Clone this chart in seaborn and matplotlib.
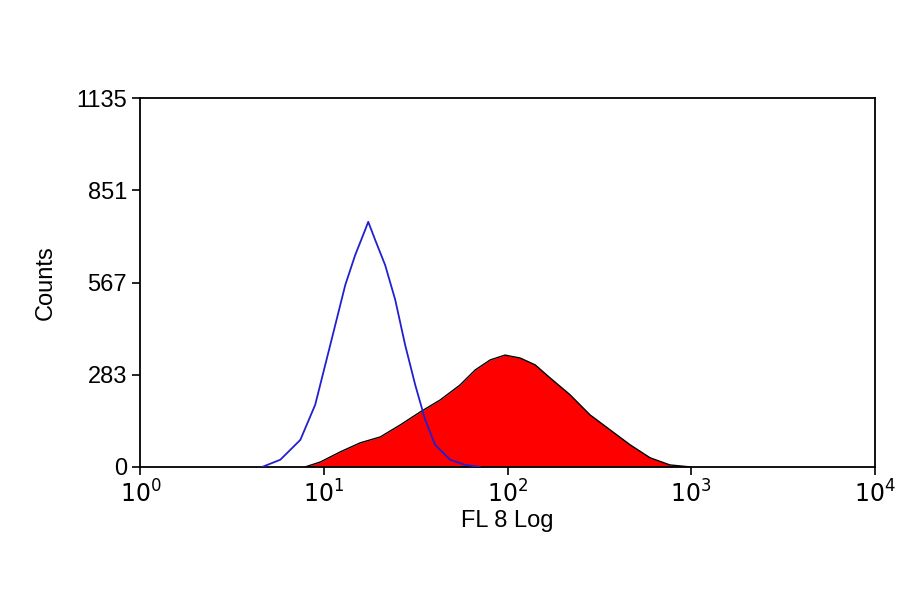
import numpy as np
import pandas as pd
import matplotlib
matplotlib.use("Agg")
import matplotlib.pyplot as plt
import seaborn as sns

# control (blue outline) histogram: log10 fluorescence, counts
blue_log = [0.664,0.762,0.871,0.952,1.034,1.116,1.170,1.224,1.241,1.279,1.333,1.388,1.442,1.497,1.551,1.605,1.687,1.769,1.850]
blue_cnt = [0,22,83,191,375,560,652,729,754,698,621,514,375,252,145,68,22,6,0]
# stained sample (red filled) histogram
red_log = [0.898,0.980,1.088,1.197,1.306,1.415,1.524,1.633,1.741,1.823,1.905,1.986,2.068,2.150,2.231,2.340,2.449,2.558,2.667,2.776,2.884,2.993]
red_cnt = [0,15,46,74,92,129,169,206,252,298,329,344,335,314,274,222,160,114,68,28,6,0]
yticks = [0,283,567,851,1135]

sns.set_style("white")
plt.rcParams['font.family'] = ['Liberation Sans', 'DejaVu Sans']

fig = plt.figure(figsize=(9,5.94), dpi=100)
ax = fig.add_axes([0.156,0.214,0.816,0.621])

rx = 10**np.array(red_log); bx = 10**np.array(blue_log)
ax.fill_between(rx, red_cnt, color='#ff0000', lw=0, zorder=1)
sns.lineplot(x=rx, y=red_cnt, ax=ax, color='black', lw=1, zorder=2)
sns.lineplot(x=bx, y=blue_cnt, ax=ax, color='#2020d0', lw=1.3, zorder=3)

ax.set_xscale('log')
ax.set_xlim(1,1e4); ax.set_ylim(0,1135)
ax.set_xticks([1,10,100,1000,10000])
ax.set_xticklabels([r'$10^0$',r'$10^1$',r'$10^2$',r'$10^3$',r'$10^4$'])
ax.xaxis.set_minor_locator(matplotlib.ticker.NullLocator())
ax.set_yticks(yticks)
ax.set_yticklabels([str(v) for v in yticks])
ax.tick_params(direction='out', length=6, width=1.2, labelsize=17, colors='black', left=True, bottom=True)
for s in ax.spines.values():
    s.set_color('black'); s.set_linewidth(1.3)
ax.set_xlabel('FL 8 Log', fontsize=17, labelpad=2, color='black')
ax.set_ylabel('Counts', fontsize=17, labelpad=14, color='black')
fig.savefig('out.png', dpi=100)
